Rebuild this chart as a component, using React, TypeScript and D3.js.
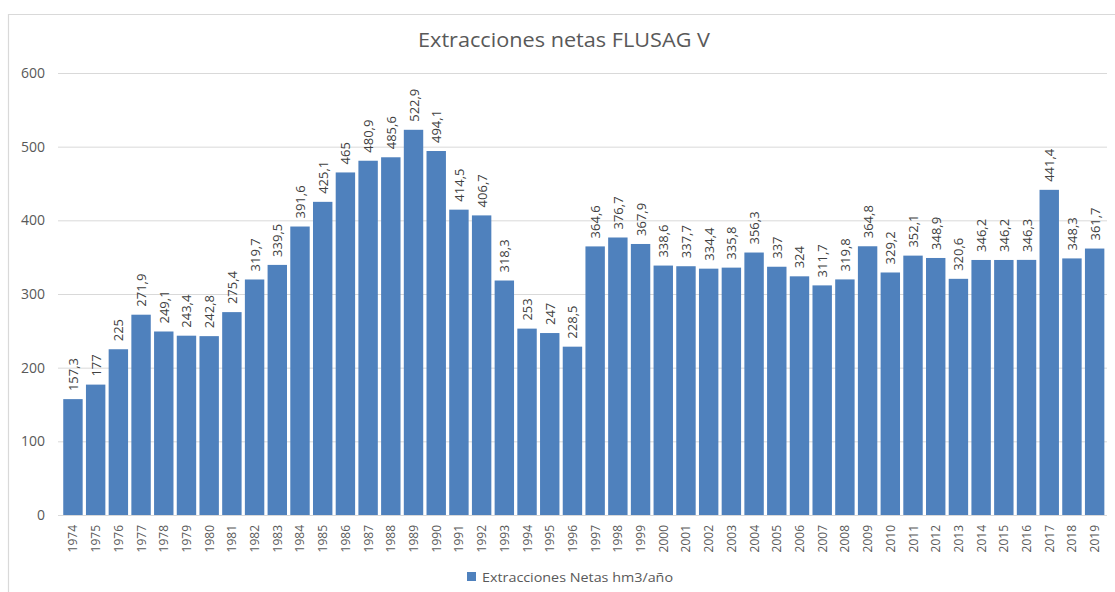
import * as d3 from 'd3';
import { useEffect, useRef } from 'react';

const years: string[] = [
    '1974', '1975', '1976', '1977', '1978', '1979', '1980', '1981', '1982', '1983',
    '1984', '1985', '1986', '1987', '1988', '1989', '1990', '1991', '1992', '1993',
    '1994', '1995', '1996', '1997', '1998', '1999', '2000', '2001', '2002', '2003',
    '2004', '2005', '2006', '2007', '2008', '2009', '2010', '2011', '2012', '2013',
    '2014', '2015', '2016', '2017', '2018', '2019',
];

const extracciones: number[] = [
    157.3, 177, 225, 271.9, 249.1, 243.4, 242.8, 275.4, 319.7, 339.5,
    391.6, 425.1, 465, 480.9, 485.6, 522.9, 494.1, 414.5, 406.7, 318.3,
    253, 247, 228.5, 364.6, 376.7, 367.9, 338.6, 337.7, 334.4, 335.8,
    356.3, 337, 324, 311.7, 319.8, 364.8, 329.2, 352.1, 348.9, 320.6,
    346.2, 346.2, 346.3, 441.4, 348.3, 361.7,
];

const yTicks: number[] = [0, 100, 200, 300, 400, 500, 600];

const title = 'Extracciones netas FLUSAG V';
const seriesName = 'Extracciones Netas hm3/año';

export default function App() {
    const chartRef = useRef<SVGSVGElement | null>(null);

    useEffect(() => {
        if (!chartRef.current) return;
        const svg = d3.select(chartRef.current);
        svg.selectAll('*').remove();

        const width = 1115;
        const height = 592;
        const font = '"Open Sans", Lato, sans-serif';
        const barColor = '#4f81bd';

        // marco del gráfico
        svg.append('path')
            .attr('d', `M8.5,${height} V14.5 H${width}`)
            .attr('fill', 'none')
            .attr('stroke', '#d9d9d9')
            .attr('stroke-width', 1.2);

        const x = d3
            .scaleBand()
            .domain(years)
            .range([61.6, 1106])
            .paddingInner(0.145)
            .paddingOuter(0.0725);

        const y = d3.scaleLinear().domain([0, 600]).range([515, 73]);

        // líneas de cuadrícula
        svg.append('g')
            .selectAll('line')
            .data(yTicks)
            .join('line')
            .attr('x1', 58)
            .attr('x2', 1107)
            .attr('y1', (d) => y(d) + 0.5)
            .attr('y2', (d) => y(d) + 0.5)
            .attr('stroke', '#d9d9d9')
            .attr('stroke-width', 1);

        // eje Y
        svg.append('g')
            .attr('transform', 'translate(45,0)')
            .call(d3.axisLeft(y).tickValues(yTicks).tickSize(0).tickPadding(0))
            .call((g) => g.select('.domain').remove())
            .selectAll('text')
            .attr('fill', '#595959')
            .style('font-family', font)
            .style('font-size', '14px');

        // barras
        svg.append('g')
            .selectAll('rect')
            .data(extracciones)
            .join('rect')
            .attr('x', (_, i) => x(years[i])!)
            .attr('y', (d) => y(d))
            .attr('width', x.bandwidth())
            .attr('height', (d) => y(0) - y(d))
            .attr('fill', barColor);

        // etiquetas de valor
        const fmt = (v: number) => d3.format('~f')(v).replace('.', ',');
        svg.append('g')
            .selectAll('text')
            .data(extracciones)
            .join('text')
            .attr(
                'transform',
                (d, i) => `translate(${x(years[i])! + x.bandwidth() / 2 + 5},${y(d) - 8}) rotate(-90)`,
            )
            .attr('text-anchor', 'start')
            .attr('fill', '#404040')
            .style('font-family', font)
            .style('font-size', '13px')
            .text((d) => fmt(d));

        // eje X
        svg.append('g')
            .attr('transform', 'translate(0,515)')
            .call(d3.axisBottom(x).tickSize(0).tickPadding(0))
            .call((g) => g.select('.domain').attr('stroke', '#d9d9d9'))
            .selectAll('text')
            .attr('transform', 'translate(4.5,10) rotate(-90)')
            .attr('dy', 0)
            .attr('y', 0)
            .style('text-anchor', 'end')
            .attr('fill', '#595959')
            .style('font-family', font)
            .style('font-size', '12px');

        // título (texto algo ensanchado como en el original)
        svg.append('text')
            .attr('x', 418)
            .attr('y', 47)
            .attr('textLength', 292)
            .attr('lengthAdjust', 'spacingAndGlyphs')
            .attr('fill', '#595959')
            .style('font-family', font)
            .style('font-size', '19.5px')
            .text(title);

        // leyenda
        const legend = svg.append('g').attr('transform', 'translate(467,572)');
        legend.append('rect').attr('width', 9).attr('height', 9).attr('fill', barColor);
        legend
            .append('text')
            .attr('x', 15)
            .attr('y', 9.5)
            .attr('textLength', 191)
            .attr('lengthAdjust', 'spacingAndGlyphs')
            .attr('fill', '#595959')
            .style('font-family', font)
            .style('font-size', '13.5px')
            .text(seriesName);
    }, []);

    return (
        <svg
            ref={chartRef}
            width={1115}
            height={592}
            style={{ position: 'absolute', left: 0, top: 0, background: '#fff' }}
        />
    );
}
